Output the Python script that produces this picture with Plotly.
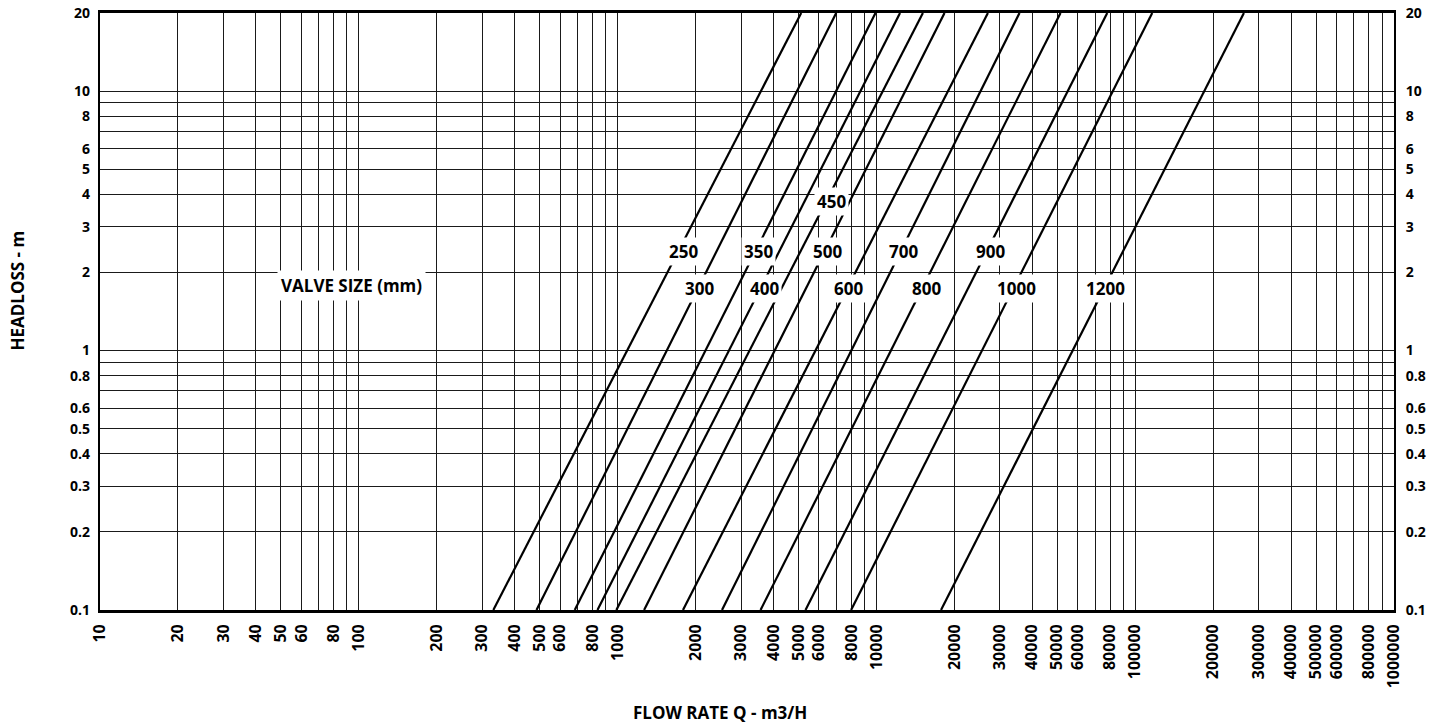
import numpy as np
import plotly.graph_objects as go

# ---- data ----
valve_sizes = [250, 300, 350, 400, 450, 500, 600, 700, 800, 900, 1000, 1200]
# flow rate (m3/h) where each valve line meets headloss 0.1 m and 20 m
flow_at_h_low = [331, 486, 683, 836, 989, 1266, 1789, 2532, 3568, 5322, 7985, 17770]
flow_at_h_high = [5122, 6993, 9920, 12340, 15124, 18331, 26966, 35720, 51450, 77960, 116350, 263030]
h_low = 0.1
h_high = 20

# label anchor points (flow, headloss) for each valve size
label_flow = [1794, 2069, 3497, 3711, 6720, 6462, 7789, 12700, 15550, 27480, 34840, 76440]
label_head = [2.40, 1.73, 2.40, 1.73, 3.75, 2.40, 1.73, 2.40, 1.73, 2.40, 1.73, 1.73]

# axis ticks
x_tick_vals = [m * 10 ** e for e in range(1, 6) for m in range(1, 10)] + [1000000]
x_tick_text = ["" if m in (7, 9) else str(m * 10 ** e) for e in range(1, 6) for m in range(1, 10)] + ["1000000"]

y_tick_vals = [0.1, 0.2, 0.3, 0.4, 0.5, 0.6, 0.7, 0.8, 0.9, 1, 2, 3, 4, 5, 6, 7, 8, 9, 10, 20]
y_tick_text = ["0.1", "0.2", "0.3", "0.4", "0.5", "0.6", "", "0.8", "", "1",
               "2", "3", "4", "5", "6", "", "8", "", "10", "20"]

FONT = "Open Sans"

fig = go.Figure()

for size, q1, q2 in zip(valve_sizes, flow_at_h_low, flow_at_h_high):
    fig.add_trace(go.Scatter(
        x=[q1, q2], y=[h_low, h_high], mode="lines",
        line=dict(color="black", width=2.2), name=str(size),
        showlegend=False, hoverinfo="skip"))

# dummy trace to activate the right-hand axis
fig.add_trace(go.Scatter(x=[100], y=[1], yaxis="y2", mode="markers",
                         marker=dict(opacity=0), showlegend=False, hoverinfo="skip"))

for size, lq, lh in zip(valve_sizes, label_flow, label_head):
    fig.add_annotation(x=np.log10(lq), y=np.log10(lh), text=str(size),
                       showarrow=False, bgcolor="white", borderpad=2,
                       font=dict(family=FONT, size=17, color="black", weight="bold"))

fig.add_annotation(x=np.log10(94), y=np.log10(1.78), text="VALVE SIZE (mm)",
                   showarrow=False, bgcolor="white", borderpad=3, xanchor="center",
                   font=dict(family=FONT, size=17, color="black", weight="bold"))

fig.add_annotation(xref="paper", yref="paper", x=-0.0634, y=0.535, text="HEADLOSS - m",
                   textangle=-90, showarrow=False, xanchor="center", yanchor="middle",
                   font=dict(family=FONT, size=17, color="black", weight="bold"))
fig.add_annotation(xref="paper", yref="paper", x=0.479, y=-0.172, text="FLOW RATE Q - m3/H",
                   showarrow=False, xanchor="center", yanchor="middle",
                   font=dict(family=FONT, size=17, color="black", weight="bold"))

xtickfont = dict(family=FONT, size=16, color="black", weight="bold")
ytickfont = dict(family=FONT, size=14, color="black", weight="bold")

fig.update_layout(
    width=1442, height=726,
    margin=dict(l=100, r=48, t=13, b=116),
    paper_bgcolor="white", plot_bgcolor="white",
    xaxis=dict(type="log", range=[1, 6], tickvals=x_tick_vals, ticktext=x_tick_text,
               tickangle=-90, tickfont=xtickfont, showgrid=True, gridcolor="#1a1a1a",
               gridwidth=1.4, showline=True, linecolor="black", linewidth=2.8,
               mirror=True, ticks="outside", ticklen=5, tickcolor="rgba(0,0,0,0)",
               zeroline=False, automargin=False),
    yaxis=dict(type="log", range=[-1, np.log10(20)], tickvals=y_tick_vals, ticktext=y_tick_text,
               tickfont=ytickfont, showgrid=True, gridcolor="#1a1a1a", gridwidth=1.4,
               showline=True, linecolor="black", linewidth=2.2, mirror=True,
               ticks="outside", ticklen=5, tickcolor="rgba(0,0,0,0)",
               zeroline=False, automargin=False),
    yaxis2=dict(type="log", range=[-1, np.log10(20)], tickvals=y_tick_vals, ticktext=y_tick_text,
                tickfont=ytickfont, overlaying="y", side="right", showgrid=False,
                showline=False, ticks="outside", ticklen=8, tickcolor="rgba(0,0,0,0)",
                zeroline=False, automargin=False),
)

fig.write_html("out.html", config={"displayModeBar": False},
               post_script="document.body.style.margin='0px';")
